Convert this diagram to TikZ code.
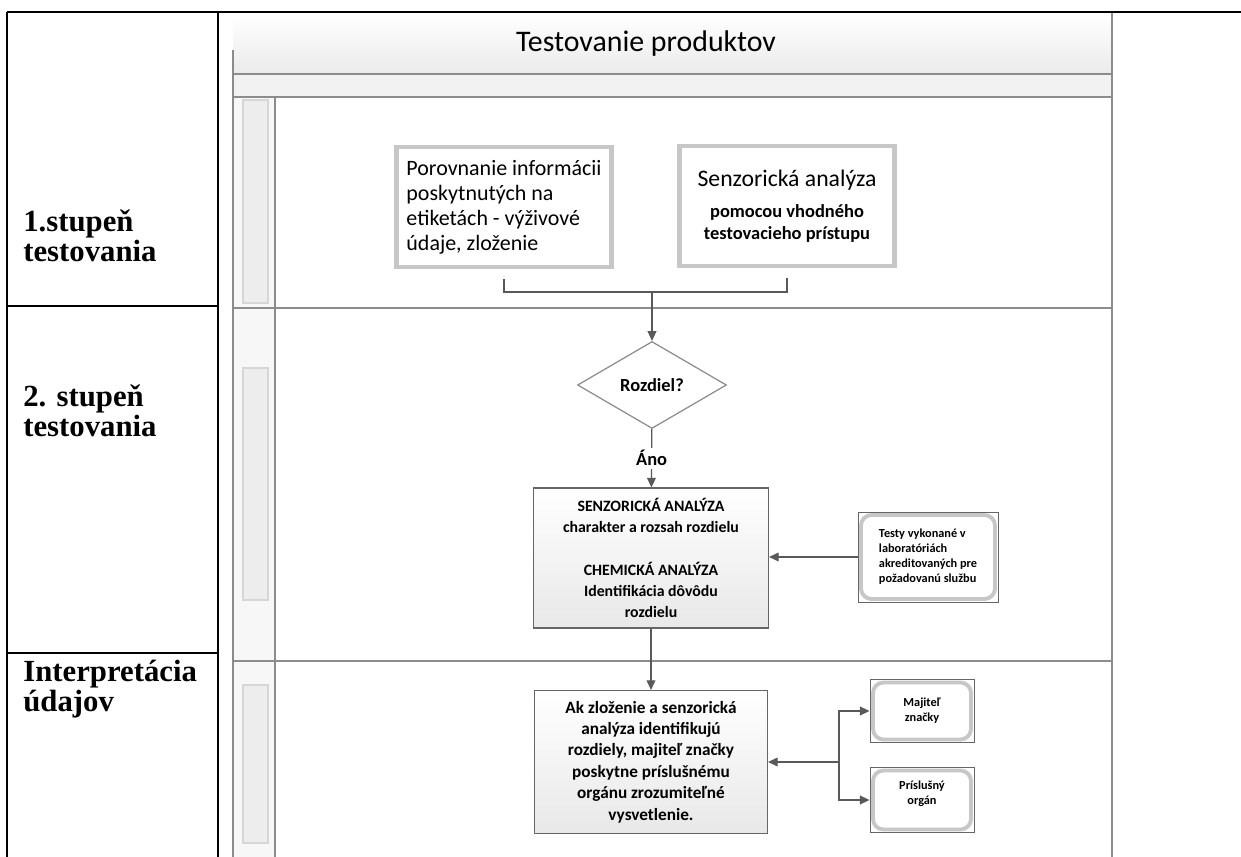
\documentclass[tikz,border=0pt]{standalone}
\usepackage{fontspec}
\setmainfont{Carlito}
\newfontfamily\tabfont{Liberation Serif}
\usetikzlibrary{arrows.meta, positioning, calc, shapes.geometric}
\newcommand{\pxu}{0.02cm}

\begin{document}
\begin{tikzpicture}[
        x=0.02cm, y=-0.02cm,
        rule/.style={line width=1.1pt, black},
        laneline/.style={draw=black!45, line width=1pt},
        inset/.style={fill=black!7, draw=black!16, line width=0.6pt},
        stagelabel/.style={anchor=base west, inner sep=0pt, align=left, font=\tabfont\bfseries\fontsize{17.5}{17.5}\selectfont},
        inbox/.style={draw=black!22, line width=2.6pt, fill=white, inner sep=4pt},
        procbox/.style={draw=black!60, line width=0.6pt, top color=white, bottom color=black!9, inner sep=2pt, align=center, font=\bfseries\fontsize{9}{12}\selectfont},
        decision/.style={diamond, draw=black!45, line width=0.7pt, fill=white, inner sep=0pt, minimum width=149*\pxu, minimum height=87*\pxu, font=\bfseries\fontsize{10.5}{12}\selectfont},
        frame/.style={draw=black!60, line width=0.5pt},
        roundbox/.style={draw=black!22, line width=2.2pt, rounded corners=6pt, fill=white, inner sep=2pt, font=\bfseries\fontsize{7}{8.5}\selectfont},
        line/.style={draw=black!65, line width=0.7pt},
        arrow/.style={line, -{Triangle[length=5.5pt, width=5pt]}}
    ]
        \useasboundingbox (0,0) rectangle (1241,857);

        \shade[top color=white, bottom color=black!8] (233,14) rectangle (1112,74);
        \fill[black!5] (233,74) rectangle (1112,97);
        \fill[black!3] (233,97) rectangle (275,857);
        \draw[inset] (243,100) rectangle (268,303);
        \draw[inset] (243,368) rectangle (268,600);
        \draw[inset] (243,685) rectangle (268,843);
        \draw[laneline] (233,74) -- (1112,74);
        \draw[laneline] (233,97) -- (1112,97);
        \draw[laneline] (233,308) -- (1112,308);
        \draw[laneline] (233,661) -- (1112,661);
        \draw[laneline] (275,97) -- (275,857);
        \draw[laneline] (233,50) -- (233,857);
        \draw[laneline] (1112,12) -- (1112,857);
        \node[font=\fontsize{17}{20}\selectfont] (title) at (646,44) {Testovanie produktov};

        \node[inbox, minimum width=215*\pxu, minimum height=120*\pxu, align=left, font=\fontsize{12.5}{14.2}\selectfont] (compare) at (504,207) {Porovnanie informácii\\poskytnutých na\\etiketách - výživové\\údaje, zloženie};
        \node[inbox, minimum width=215*\pxu, minimum height=120*\pxu, align=center, font=\bfseries\fontsize{10.5}{12.5}\selectfont] (sensory) at (787,206) {{\mdseries\fontsize{13.5}{16}\selectfont Senzorická analýza}\\[5pt]pomocou vhodného\\testovacieho prístupu};
        \node[decision] (diff) at (652,385) {Rozdiel?};
        \node[procbox, minimum width=235*\pxu, minimum height=140*\pxu] (analysis) at (651,558) {SENZORICKÁ ANALÝZA\\charakter a rozsah rozdielu\\[12pt]CHEMICKÁ ANALÝZA\\Identifikácia dôvôdu\\rozdielu};
        \node[frame, minimum width=140*\pxu, minimum height=90*\pxu] (labs) at (928,557) {};
        \node[roundbox, minimum width=134*\pxu, minimum height=84*\pxu, align=left] (labstext) at (labs) {Testy vykonané v\\laboratóriách\\akreditovaných pre\\požadovanú službu};
        \node[procbox, minimum width=233*\pxu, minimum height=143*\pxu, font=\bfseries\fontsize{9.8}{12.2}\selectfont] (explain) at (651,762) {Ak zloženie a senzorická\\analýza identifikujú\\rozdiely, majiteľ značky\\poskytne príslušnému\\orgánu zrozumiteľné\\vysvetlenie.};
        \node[frame, minimum width=104*\pxu, minimum height=63*\pxu] (owner) at (922,711) {};
        \node[roundbox, minimum width=98*\pxu, minimum height=57*\pxu, align=center] (ownertext) at (owner) {Majiteľ\\značky};
        \node[frame, minimum width=104*\pxu, minimum height=65*\pxu] (organ) at (922,800) {};
        \node[roundbox, minimum width=98*\pxu, minimum height=59*\pxu, align=center] (organtext) at (organ) {Príslušný\\orgán\\\mbox{}};

        \coordinate (merge) at (652,292);
        \coordinate (split) at (839,762);
        \draw[line] ($(compare.south)+(0,10)$) |- (merge) -| ($(sensory.south)+(0,10)$);
        \draw[arrow] (merge) -- (diff);
        \draw[arrow] (diff) -- node[fill=white, inner sep=1.5pt, font=\bfseries\fontsize{10.5}{12}\selectfont] (yes) {Áno} (analysis);
        \draw[arrow] (labs.west) -- (labs.west -| analysis.east);
        \draw[arrow] (analysis) -- (explain);
        \draw[arrow] (split) -- (explain);
        \draw[arrow] (split) |- (owner);
        \draw[arrow] (split) |- (organ);

        \draw[rule] (7,12) -- (1241,12);
        \draw[rule] (7,12) -- (7,857);
        \draw[rule] (218,12) -- (218,857);
        \draw[rule] (7,306) -- (218,306);
        \draw[rule] (7,653) -- (218,653);
        \node[stagelabel] (stage1) at (23,262) {1.stupeň\\testovania};
        \node[stagelabel] (stage2) at (23,437) {2. stupeň\\testovania};
        \node[stagelabel] (stage3) at (23,712) {Interpretácia\\údajov};
    \end{tikzpicture}
\end{document}
